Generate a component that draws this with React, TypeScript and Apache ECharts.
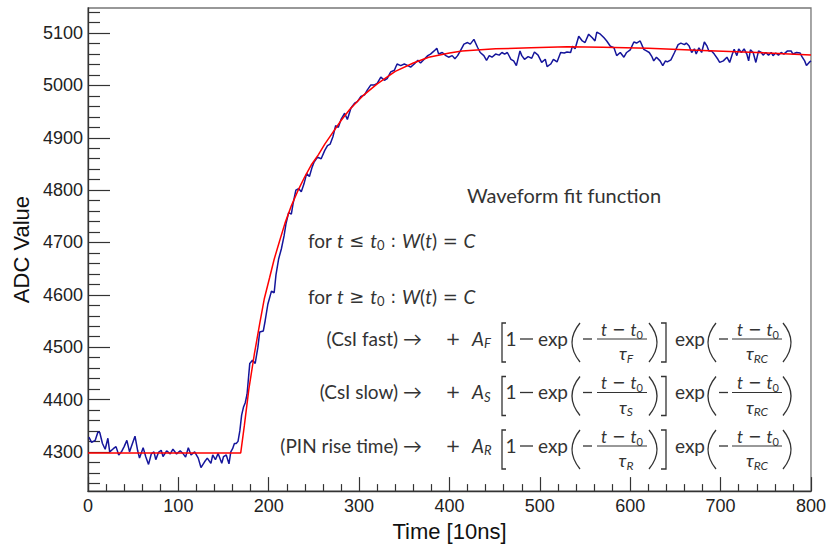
import React, { useEffect, useRef } from 'react';
import * as echarts from 'echarts';

// Measured waveform (time in 10ns units, ADC value)
const waveTimes = [
  1, 4, 8, 11, 13, 16, 19, 22, 24, 28, 31, 34, 37, 40, 43, 46, 48, 52, 55, 57, 61, 64, 67, 70, 73, 75, 78, 81, 83, 87,
  91, 94, 98, 102, 105, 108, 111, 114, 118, 122, 125, 129, 132, 136, 138, 141, 144, 148, 150, 153, 156,
  158, 160, 162, 164, 166, 168, 170, 172, 174, 176, 179, 182, 185, 188, 190, 194, 196, 199, 203, 206, 208, 211, 214,
  217, 219, 222, 225, 227, 230, 233, 236, 239, 242, 245, 248, 250, 254, 258, 262, 265,
  268, 271, 274, 277, 280, 284, 287, 291, 295, 298, 302, 306, 309, 313, 317, 320, 324, 328, 331, 335, 339, 342, 346,
  350, 354, 357, 361, 365, 368, 372, 376, 379, 383, 386, 388, 392, 396, 399, 403, 406, 409, 412, 416, 420, 423, 427,
  431, 434, 438, 441,
  444, 447, 451, 455, 458, 461, 464, 468, 471, 474, 478, 480, 483, 487, 491, 494, 498, 502, 506, 508, 512, 515, 519,
  523, 527, 530, 534, 536, 539, 543, 547, 550, 554, 558, 561, 563, 567, 571, 574, 578, 582, 585, 589, 593, 596, 600,
  604, 607, 611, 615, 618,
  621, 624, 626, 629, 633, 636, 639, 641, 645, 649, 653, 656, 660, 662, 665, 668, 671, 673, 676, 679, 682, 685, 687,
  690, 693, 697, 699, 703, 707, 710, 713, 715, 718, 720, 723, 726, 729, 731, 733, 736, 739, 742, 745, 747, 750, 753,
  756, 758, 761, 764, 767, 770, 774, 778, 780, 784, 788, 790, 793, 795, 798, 800,
];
const waveValues = [
  4328, 4318, 4322, 4338, 4337, 4316, 4305, 4326, 4300, 4306, 4310, 4294, 4300, 4310, 4322, 4300, 4310, 4330, 4302, 4288,
  4308, 4290, 4276, 4296, 4300, 4285, 4299, 4303, 4291, 4302, 4296, 4305, 4296, 4302, 4297, 4290, 4308, 4294, 4300, 4288,
  4270, 4281, 4288, 4278, 4294, 4285, 4297, 4278, 4291, 4294, 4277,
  4300, 4306, 4316, 4316, 4320, 4340, 4370, 4385, 4394, 4410, 4469, 4475, 4469, 4500, 4529, 4531, 4550, 4582, 4607, 4604,
  4638, 4669, 4688, 4713, 4735, 4757, 4754, 4775, 4800, 4803, 4797, 4812, 4832, 4826, 4844, 4853, 4863, 4860, 4876, 4885,
  4888, 4902, 4923, 4920, 4935, 4947, 4935, 4957, 4966, 4969, 4979, 4982, 4991, 5001, 5001, 5004, 5016, 5010, 5013, 5026,
  5029, 5041, 5038, 5041, 5038, 5035, 5041, 5048, 5043, 5050, 5057, 5060, 5066, 5071, 5060, 5063, 5057, 5054, 5057, 5051,
  5057, 5066, 5079, 5082, 5079, 5088, 5073, 5063, 5057, 5048,
  5057, 5054, 5060, 5058, 5063, 5060, 5063, 5050, 5047, 5038, 5066, 5057, 5050, 5055, 5052, 5064, 5058, 5044, 5050, 5036,
  5041, 5050, 5045, 5063, 5062, 5064, 5063, 5075, 5070, 5094, 5085, 5082, 5098, 5091, 5085, 5102, 5098, 5091, 5085, 5075,
  5072, 5057, 5063, 5054, 5063, 5068, 5083, 5081, 5085, 5069, 5066,
  5063, 5055, 5047, 5054, 5047, 5038, 5047, 5045, 5049, 5063, 5078, 5081, 5078, 5081, 5076, 5063, 5070, 5060, 5072, 5063,
  5083, 5075, 5066, 5066, 5060, 5050, 5044, 5047, 5054, 5044, 5060, 5069, 5057, 5070, 5063, 5070, 5060, 5047, 5068, 5063,
  5044, 5066, 5063, 5058, 5063, 5058, 5063, 5057, 5062, 5058, 5063, 5060, 5066, 5066, 5060, 5063, 5062, 5055, 5047, 5038,
  5044, 5047,
];

// Fit curve
const fitTimes = [0, 169, 173, 178, 184, 190, 195, 201, 206, 212, 218, 225, 232, 240, 247, 255, 262, 270, 280, 290, 304, 320, 340, 360, 377, 400, 414, 451, 490, 530, 570, 620, 680, 740, 800];
const fitValues = [4298, 4298, 4350, 4420, 4486, 4545, 4592, 4633, 4668, 4703, 4737, 4770, 4798, 4826, 4848, 4868, 4888, 4908, 4933, 4955, 4980, 5003, 5027, 5043, 5054, 5062, 5066, 5070, 5072, 5074, 5073, 5071, 5067, 5063, 5058];

const yMajorTicks = [4300, 4400, 4500, 4600, 4700, 4800, 4900, 5000, 5100];
const yMinorTicks = [4240, 4260, 4280, 4320, 4340, 4360, 4380, 4420, 4440, 4460, 4480, 4520, 4540, 4560, 4580, 4620, 4640, 4660, 4680, 4720, 4740, 4760, 4780, 4820, 4840, 4860, 4880, 4920, 4940, 4960, 4980, 5020, 5040, 5060, 5080, 5120, 5140];

const rowLabels = ['(CsI fast) \u2192', '(CsI slow) \u2192', '(PIN rise time) \u2192'];
const rowSubs = ['F', 'S', 'R'];

const TXT = '#333';
const FF = 'Lato, "DejaVu Sans", sans-serif';
const OPF = '"DejaVu Sans", sans-serif';
const AX = 'Liberation Sans, Arial, sans-serif';

function richStyles(size: number) {
  const sub = Math.round(size * 0.66);
  return {
    n: { fontSize: size, fontFamily: FF, fill: TXT, lineHeight: 24 },
    o: { fontSize: size - 1, fontFamily: OPF, fill: TXT, lineHeight: 24 },
    i: { fontSize: size, fontFamily: FF, fontStyle: 'italic', fill: TXT, lineHeight: 24 },
    s: { fontSize: sub, fontFamily: FF, fill: TXT, lineHeight: 14, padding: [10, 0, 0, 0] },
    si: { fontSize: sub, fontFamily: FF, fontStyle: 'italic', fill: TXT, lineHeight: 14, padding: [10, 0, 0, 0] },
  };
}

function rt(x: number, y: number, text: string, size: number, align = 'left') {
  return {
    type: 'text', x, y, silent: true,
    style: { text, rich: richStyles(size), align, verticalAlign: 'middle', fill: TXT, fontSize: size, fontFamily: FF },
  };
}

function tx(x: number, y: number, text: string, size: number, align = 'left', family = FF) {
  return {
    type: 'text', x, y, silent: true,
    style: { text, fill: TXT, fontSize: size, fontFamily: family, align, verticalAlign: 'middle' },
  };
}

const stroke = { stroke: TXT, lineWidth: 1.3, fill: 'none' };

function paren(xEnd: number, cx: number, yc: number) {
  return { type: 'bezierCurve', silent: true, shape: { x1: xEnd, y1: yc - 15, cpx1: cx, cpy1: yc + 4.5, x2: xEnd, y2: yc + 24 }, style: stroke };
}

function minus(x1: number, x2: number, y: number) {
  return { type: 'line', silent: true, shape: { x1, y1: y, x2, y2: y }, style: { stroke: TXT, lineWidth: 1.3 } };
}

function row(yc: number, label: string, s: string) {
  return [
    tx(422, yc, label, 19, 'right'),
    tx(453, yc, '+', 18, 'center', OPF),
    rt(472, yc, `{i|A}{si|${s}}`, 19),
    { type: 'polyline', silent: true, shape: { points: [[506, yc - 15], [502, yc - 15], [502, yc + 24], [506, yc + 24]] }, style: stroke },
    tx(511, yc, '1', 19, 'center'),
    minus(520, 533, yc + 1),
    tx(538, yc, 'exp', 19),
    paren(580, 564, yc),
    minus(583, 592, yc + 1),
    rt(622, yc - 9, '{i|t}{o| \u2212 }{i|t}{s|0}', 17, 'center'),
    { type: 'line', silent: true, shape: { x1: 597, y1: yc + 1, x2: 647, y2: yc + 1 }, style: { stroke: TXT, lineWidth: 1 } },
    rt(626, yc + 15, `{i|\u03c4}{si|${s}}`, 18, 'center'),
    paren(649, 665, yc),
    { type: 'polyline', silent: true, shape: { points: [[661, yc - 15], [666, yc - 15], [666, yc + 24], [661, yc + 24]] }, style: stroke },
    tx(675, yc, 'exp', 19),
    paren(716, 700, yc),
    minus(719, 728, yc + 1),
    rt(758, yc - 9, '{i|t}{o| \u2212 }{i|t}{s|0}', 17, 'center'),
    { type: 'line', silent: true, shape: { x1: 732, y1: yc + 1, x2: 782, y2: yc + 1 }, style: { stroke: TXT, lineWidth: 1 } },
    rt(757, yc + 15, '{i|\u03c4}{si|RC}', 18, 'center'),
    paren(783, 799, yc),
  ];
}

export default function App() {
  const ref = useRef<HTMLDivElement>(null);
  useEffect(() => {
    if (!ref.current) return;
    const chart = echarts.init(ref.current, null, { renderer: 'svg' });
    const rowYs = [338, 391.5, 445];
    const graphics: any[] = [
      tx(467, 195, 'Waveform fit function', 20),
      rt(308, 240, '{n|for }{i|t}{o| \u2264 }{i|t}{s|0}{o| : }{i|W}{n|(}{i|t}{n|)}{o| = }{i|C}', 19),
      rt(308, 296, '{n|for }{i|t}{o| \u2265 }{i|t}{s|0}{o| : }{i|W}{n|(}{i|t}{n|)}{o| = }{i|C}', 19),
    ];
    rowYs.forEach((y, i) => graphics.push(...row(y, rowLabels[i], rowSubs[i])));

    const axisLine = { show: true, lineStyle: { color: '#333', width: 1.3 } };
    const plain = (v: number) => String(v);
    chart.setOption({
      animation: false,
      backgroundColor: '#fff',
      grid: { left: 88, right: 16, top: 8, bottom: 47, show: true, borderColor: '#777', borderWidth: 1.3, backgroundColor: 'transparent' },
      xAxis: {
        type: 'value', min: 0, max: 800, interval: 100,
        name: 'Time [10ns]', nameLocation: 'middle', nameGap: 22,
        nameTextStyle: { fontSize: 22, fontFamily: AX, color: '#111' },
        axisLine,
        axisTick: { show: true, inside: true, length: 14, lineStyle: { color: '#333', width: 1.2 } },
        minorTick: { show: true, splitNumber: 5, length: 7, lineStyle: { color: '#333', width: 1.2 } },
        axisLabel: { fontSize: 18, fontFamily: AX, color: '#222', margin: 6, formatter: plain },
        splitLine: { show: false },
      },
      yAxis: [
        {
          type: 'value', min: 4225, max: 5148, position: 'left',
          name: 'ADC Value', nameLocation: 'middle', nameGap: 56,
          nameTextStyle: { fontSize: 22, fontFamily: AX, color: '#111' },
          axisLine,
          axisTick: { show: true, inside: true, length: 22, customValues: yMajorTicks, lineStyle: { color: '#333', width: 1.2 } },
          axisLabel: { fontSize: 18, fontFamily: AX, color: '#222', margin: 5, customValues: yMajorTicks, formatter: plain },
          splitLine: { show: false },
        },
        {
          type: 'value', min: 4225, max: 5148, position: 'left',
          axisLine: { show: false },
          axisTick: { show: true, inside: true, length: 12, customValues: yMinorTicks, lineStyle: { color: '#333', width: 1.2 } },
          axisLabel: { show: false },
          splitLine: { show: false },
        },
      ],
      series: [
        {
          type: 'line', yAxisIndex: 0, showSymbol: false, symbol: 'none',
          data: waveTimes.map((t, i) => [t, waveValues[i]]),
          lineStyle: { color: '#15159b', width: 1.5 },
          z: 2,
        },
        {
          type: 'line', yAxisIndex: 0, showSymbol: false, symbol: 'none',
          data: fitTimes.map((t, i) => [t, fitValues[i]]),
          lineStyle: { color: '#ff0000', width: 1.5 },
          z: 3,
        },
      ],
      graphic: graphics,
    });
    return () => chart.dispose();
  }, []);
  return <div ref={ref} style={{ position: 'fixed', left: 0, top: 0, width: 829, height: 547 }} />;
}
